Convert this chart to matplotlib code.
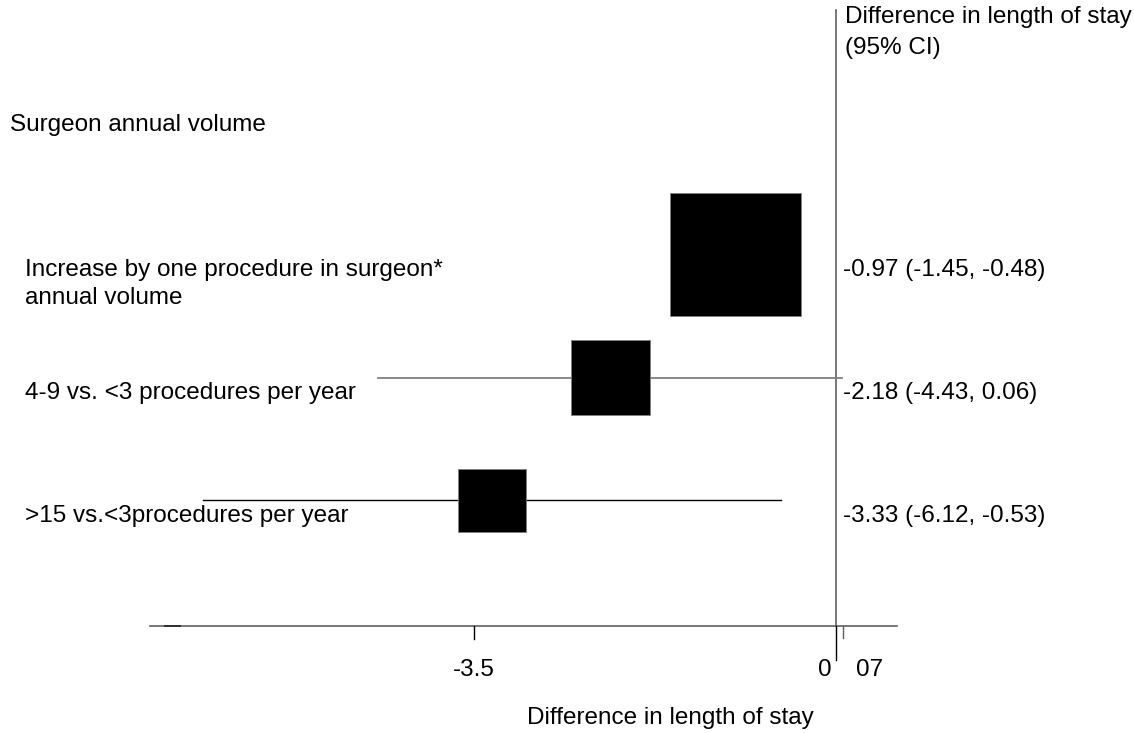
import matplotlib.pyplot as plt
from matplotlib.patches import Rectangle

# forest plot data
header = "Surgeon annual volume"
labels = [
    "Increase by one procedure in surgeon*\nannual volume",
    "4-9 vs. <3 procedures per year",
    ">15 vs.<3procedures per year",
]
estimates = [-0.97, -2.18, -3.33]
ci_low = [-1.45, -4.43, -6.12]
ci_high = [-0.48, 0.06, -0.53]
weights = [63, 23, 17]
tick_values = [-3.5, 0, 0.07]
tick_labels = ["-3.5", "0", "07"]
axis_range = (-6.63, 0.59)
col_header = ["Difference in length of stay", "(95% CI)"]
x_title = "Difference in length of stay"

plt.rcParams["font.family"] = ["Liberation Sans", "DejaVu Sans"]
FS = 17.5

W, H = 1134, 733
PX_X = 103.4   # pixels per unit on x
PX_Y = 123.0   # pixels per row
X0 = 836       # pixel column of zero
Y0 = 131.5     # pixel row of header row
LINE = 0.225   # text line step in rows

fig = plt.figure(figsize=(W / 100, H / 100), dpi=100)
ax = fig.add_axes([0, 0, 1, 1])
ax.set_xlim(-X0 / PX_X, (W - X0) / PX_X)
ax.set_ylim((H - Y0) / PX_Y, -Y0 / PX_Y)
ax.axis("off")

ytr = ax.get_yaxis_transform()   # x in axes fraction, y in data

ax.text(10 / W, -0.05, header, transform=ytr, fontsize=FS,
        va="center", ha="left")

for i, (lab, est, lo, hi, w) in enumerate(
        zip(labels, estimates, ci_low, ci_high, weights)):
    y = i + 1
    lc = "#808080" if i == 1 else "black"
    ax.plot([lo, hi], [y, y], color=lc, lw=1.3 if i == 1 else 1.0, zorder=2)
    side = 160 * (w / 100) ** 0.5
    bw = side * 1.03 / PX_X
    bh = side * 0.97 / PX_Y
    ax.add_patch(Rectangle((est - bw / 2, y - bh / 2), bw, bh,
                           facecolor="black", edgecolor="#808080", lw=0.6,
                           zorder=3))
    for k, part in enumerate(lab.split("\n")):
        ax.text(25 / W, y + 0.125 + k * LINE, part, transform=ytr,
                fontsize=FS, va="center", ha="left")
    txt = f"{est:.2f} ({lo:.2f}, {hi:.2f})"
    ax.text(843 / W, y + 0.13, txt, transform=ytr, fontsize=FS,
            va="center", ha="left")

# right column header
for k, part in enumerate(col_header):
    ax.text(845 / W, -0.93 + k * 0.252, part, transform=ytr, fontsize=FS,
            va="center", ha="left")

# vertical zero line
y_axis = len(labels) + 1.02
ax.plot([0, 0], [-0.99, y_axis], color="#606060", lw=1.2, zorder=1)

# x axis
ax.plot(list(axis_range), [y_axis, y_axis], color="#606060", lw=1.2)
ax.plot([axis_range[0] + 0.14, axis_range[0] + 0.29], [y_axis, y_axis],
        color="#303030", lw=1.4)
ticks_style = {-3.5: (0.11, "black"), 0: (0.28, "black"), 0.07: (0.1, "#606060")}
for tv in tick_values:
    tlen, tc = ticks_style[tv]
    ax.plot([tv, tv], [y_axis, y_axis + tlen], color=tc, lw=1.0)
y_lab = y_axis + 0.36
ax.text(tick_values[0], y_lab, tick_labels[0], fontsize=FS,
        ha="center", va="center")
ax.text(tick_values[1] - 0.04, y_lab, tick_labels[1], fontsize=FS,
        ha="right", va="center")
ax.text(tick_values[2] + 0.12, y_lab, tick_labels[2], fontsize=FS,
        ha="left", va="center")

ax.text(-1.6, y_axis + 0.75, x_title, fontsize=FS, ha="center", va="center")

fig.savefig("out.png", dpi=100)
